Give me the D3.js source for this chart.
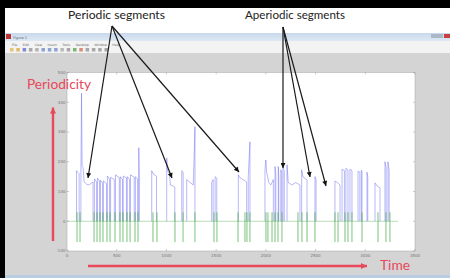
<!DOCTYPE html>
<html><head><meta charset="utf-8">
<script src="https://cdn.jsdelivr.net/npm/d3@7"></script>
<style>html,body{margin:0;padding:0;background:#000;overflow:hidden}</style>
</head><body>
<svg id="c" width="450" height="278"></svg>
<script>
// ---- data ----
const xTicks = [0, 500, 1000, 1500, 2000, 2500, 3000, 3500];
const yTicks = [-100, 0, 100, 200, 300, 400, 500];
const menuItems = ["File", "Edit", "View", "Insert", "Tools", "Desktop", "Window", "Help"];
// periodicity track (blue): voiced stretches as [time, value]; each stretch rises from and falls back to 0
const blueSegments = [
  [[96,170],[108,165],[122,160]],
  [[140,160],[146,430],[152,185],[162,180],[172,132],[195,125],[220,122],[245,128],[262,132]],
  [[276,142],[298,132]],
  [[306,145],[328,135]],
  [[336,138],[358,128]],
  [[366,136],[398,126]],
  [[406,152],[428,142]],
  [[438,148],[476,140]],
  [[488,156],[526,146]],
  [[536,150],[558,140]],
  [[566,152],[598,145]],
  [[606,150],[630,140]],
  [[638,156],[676,148]],
  [[688,150],[710,142]],
  [[722,247],[726,160]],
  [[852,170],[870,158],[900,152]],
  [[1003,213],[1010,170],[1030,160],[1040,122],[1070,118],[1084,115]],
  [[1154,170],[1168,165]],
  [[1204,140],[1240,130],[1270,122],[1287,318]],
  [[1455,130],[1470,140]],
  [[1490,150],[1506,145]],
  [[1723,156],[1740,146],[1780,138],[1807,132]],
  [[1823,150],[1840,267]],
  [[1991,173],[2000,206],[2008,165],[2030,130],[2050,122],[2075,140]],
  [[2092,184],[2100,160]],
  [[2125,184],[2130,150]],
  [[2150,173],[2160,165]],
  [[2172,180],[2185,170]],
  [[2213,190],[2225,130],[2260,122],[2300,130],[2343,122]],
  [[2360,173],[2373,149],[2414,139]],
  [[2494,150],[2505,140]],
  [[2695,135],[2720,130],[2746,122]],
  [[2766,175],[2790,170]],
  [[2805,178],[2826,172]],
  [[2846,175],[2866,170]],
  [[2927,168],[2945,165]],
  [[2960,172],[2967,168]],
  [[3017,165],[3025,150]],
  [[3098,129],[3120,118],[3148,112]],
  [[3198,200],[3210,180]],
  [[3228,200],[3240,170]]
];
// segment boundary marks (green)
const boundaryTimes = [101,131,272,302,332,362,402,433,483,533,563,603,634,684,714,
  865,905,1086,1167,1287,1478,1508,1720,1790,1810,1840,2001,2021,2062,2092,2122,2162,
  2323,2363,2414,2494,2695,2726,2796,2826,2866,2967,3128,3208,3248];
const boundaryHigh = 30, boundaryLow = -70, greenEnd = 3330;
const labelsTop = [{text:"Periodic segments", cx:116.5, w:97, anchor:[112,26],
    targets:[[88,178],[172,178],[239,172]]},
  {text:"Aperiodic segments", cx:295, w:100, anchor:[283,27],
    targets:[[283,168],[310,177],[326,186]]}];

// ---- drawing ----
const svg = d3.select("#c");
const RED = "#e9475a";
svg.append("rect").attr("width",450).attr("height",278).attr("fill","#000");
svg.append("rect").attr("x",5).attr("y",8).attr("width",445).attr("height",25).attr("fill","#fff");
const tg = svg.append("defs").append("linearGradient").attr("id","tb").attr("x1",0).attr("y1",0).attr("x2",0).attr("y2",1);
tg.append("stop").attr("offset",0).attr("stop-color","#c9d9ec");
tg.append("stop").attr("offset",1).attr("stop-color","#dde8f4");
svg.append("rect").attr("x",5).attr("y",33).attr("width",445).attr("height",8).attr("fill","url(#tb)");
svg.append("rect").attr("x",5).attr("y",41).attr("width",445).attr("height",12).attr("fill","#f3f3f3");
svg.append("rect").attr("x",5).attr("y",53).attr("width",445).attr("height",222).attr("fill","#d4d4d4");
svg.append("rect").attr("x",5).attr("y",275).attr("width",445).attr("height",3).attr("fill","#b9cce0");
svg.append("rect").attr("x",6).attr("y",34).attr("width",5).attr("height",5).attr("fill","#b33");
svg.append("text").attr("x",13).attr("y",38.5).attr("font-size",3.5).attr("fill","#667").attr("font-family","DejaVu Sans").text("Figure 1");
svg.append("rect").attr("x",431).attr("y",34).attr("width",12).attr("height",4).attr("fill","#aab8c8");
svg.append("rect").attr("x",444).attr("y",34).attr("width",6).attr("height",4).attr("fill","#c84040");
let mx = 12;
menuItems.forEach(m => {
  const t = svg.append("text").attr("x",mx).attr("y",45.5).attr("font-size",3.2).attr("fill","#666")
    .attr("font-family","DejaVu Sans").text(m);
  mx += t.node().getComputedTextLength() + 5.5;
});
const iconColors = ["#e0b040","#d8a030","#5060c0","#888","#999","#6080c0","#6080c0","#6080c0","#a0a0a0","#888","#40a040","#d06040","#888","#888","#888","#888"];
iconColors.forEach((c,i)=>{
  svg.append("rect").attr("x",10+i*6.3).attr("y",48).attr("width",3.5).attr("height",3.5).attr("fill",c).attr("opacity",0.7);
});

// axes
const x = d3.scaleLinear().domain([0,3500]).range([67,415]);
const y = d3.scaleLinear().domain([-100,500]).range([251,72.5]);
svg.append("rect").attr("x",x(0)).attr("y",y(500)).attr("width",x(3500)-x(0)).attr("height",y(-100)-y(500))
  .attr("fill","#fff").attr("stroke","#a5a5a5").attr("stroke-width",0.5);
const ax = svg.append("g").attr("font-family","DejaVu Sans").attr("font-size",4).attr("fill","#777");
xTicks.forEach(t=>{
  ax.append("line").attr("x1",x(t)).attr("x2",x(t)).attr("y1",y(-100)).attr("y2",y(-100)-2).attr("stroke","#999").attr("stroke-width",0.5);
  ax.append("line").attr("x1",x(t)).attr("x2",x(t)).attr("y1",y(500)).attr("y2",y(500)+2).attr("stroke","#999").attr("stroke-width",0.5);
  ax.append("text").attr("x",x(t)).attr("y",y(-100)+5.5).attr("text-anchor","middle").text(t);
});
yTicks.forEach(t=>{
  ax.append("line").attr("x1",x(0)).attr("x2",x(0)+2).attr("y1",y(t)).attr("y2",y(t)).attr("stroke","#999").attr("stroke-width",0.5);
  ax.append("line").attr("x1",x(3500)).attr("x2",x(3500)-2).attr("y1",y(t)).attr("y2",y(t)).attr("stroke","#999").attr("stroke-width",0.5);
  ax.append("text").attr("x",x(0)-1.5).attr("y",y(t)+1.4).attr("text-anchor","end").text(t);
});

// blue periodicity line, one path per voiced stretch
const line = d3.line().x(d=>x(d[0])).y(d=>y(d[1]));
svg.append("g").selectAll("path").data(blueSegments).join("path")
  .attr("d", s => line([[s[0][0],0], ...s, [s[s.length-1][0],0]]))
  .attr("fill","none").attr("stroke","#6a6af0").attr("stroke-width",0.8).attr("stroke-opacity",0.6);
// green boundary line
const greenPts = [[0,0]];
boundaryTimes.forEach(t=>{ greenPts.push([t,0],[t,boundaryHigh],[t,boundaryLow],[t,0]); });
greenPts.push([greenEnd,0]);
svg.append("path").attr("d",line(greenPts)).attr("fill","none").attr("stroke","#4caf50")
  .attr("stroke-width",0.7).attr("stroke-opacity",0.6);

// annotations
const defs = svg.select("defs");
function marker(id,color,w,h){
  defs.append("marker").attr("id",id).attr("viewBox","0 0 10 10").attr("refX",10).attr("refY",5)
    .attr("markerWidth",w).attr("markerHeight",h).attr("orient","auto").attr("markerUnits","userSpaceOnUse")
    .append("path").attr("d","M0,0L10,5L0,10Z").attr("fill",color);
}
marker("ab","#111",6,5);
marker("ar",RED,7,6);
labelsTop.forEach(l=>{
  svg.append("text").attr("x",l.cx).attr("y",19.3).attr("text-anchor","middle").attr("font-family","Lato, Open Sans")
    .attr("font-size",12).attr("fill","#222").attr("textLength",l.w).attr("lengthAdjust","spacingAndGlyphs").text(l.text);
  l.targets.forEach(t=>{
    svg.append("line").attr("x1",l.anchor[0]).attr("y1",l.anchor[1]).attr("x2",t[0]).attr("y2",t[1])
      .attr("stroke","#1a1a1a").attr("stroke-width",1.2).attr("marker-end","url(#ab)");
  });
});
svg.append("text").attr("x",27).attr("y",89.3).attr("font-family","Lato, Open Sans").attr("font-size",13.5)
  .attr("fill",RED).attr("textLength",64).attr("lengthAdjust","spacingAndGlyphs").text("Periodicity");
svg.append("line").attr("x1",53).attr("y1",241).attr("x2",53).attr("y2",107.5).attr("stroke",RED)
  .attr("stroke-width",2.4).attr("marker-end","url(#ar)");
svg.append("line").attr("x1",88).attr("y1",266).attr("x2",367).attr("y2",266).attr("stroke",RED)
  .attr("stroke-width",2.4).attr("marker-end","url(#ar)");
svg.append("text").attr("x",380).attr("y",270).attr("font-family","Lato, Open Sans").attr("font-size",13.5)
  .attr("fill",RED).attr("textLength",30).attr("lengthAdjust","spacingAndGlyphs").text("Time");
</script>
</body></html>
